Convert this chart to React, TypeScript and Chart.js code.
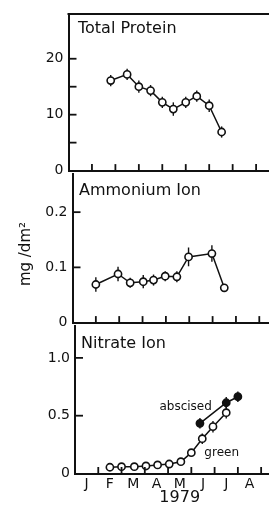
import React, { useEffect, useRef } from "react";
import { Chart, registerables } from "chart.js";

Chart.register(...registerables);

const INK = "#111";
const FONT = "DejaVu Sans";

// x in months since Jan 1, 1979
const monthLabels = ["J", "F", "M", "A", "M", "J", "J", "A"];
const monthCenters = [0.5, 1.5, 2.5, 3.5, 4.5, 5.5, 6.5, 7.5];
const monthBounds = [1, 2, 3, 4, 5, 6, 7, 8];

// Total Protein
const proteinDates = [1.8, 2.5, 3.0, 3.5, 4.0, 4.47, 5.0, 5.47, 6.0, 6.53];
const proteinValues = [16.1, 17.2, 15.0, 14.3, 12.2, 11.0, 12.2, 13.3, 11.6, 6.9];
const proteinErrors = [1.0, 1.0, 1.1, 1.0, 1.0, 1.2, 1.0, 1.0, 1.1, 1.0];
const proteinTicks = [0, 10, 20];
const proteinTickLabels = ["0", "10", "20"];
const proteinMarks = [5, 10, 15, 20];

// Ammonium Ion
const ammoniumDates = [1.0, 1.95, 2.47, 3.03, 3.47, 3.97, 4.47, 4.97, 5.97, 6.5];
const ammoniumValues = [0.069, 0.088, 0.072, 0.074, 0.077, 0.084, 0.083, 0.119, 0.125, 0.063];
const ammoniumErrors = [0.013, 0.013, 0.009, 0.012, 0.01, 0.009, 0.01, 0.017, 0.015, 0];
const ammoniumTicks = [0, 0.1, 0.2];
const ammoniumTickLabels = ["0", "0.1", "0.2"];
const ammoniumMarks = [0.1, 0.2];

// Nitrate Ion
const greenDates = [1.5, 2.0, 2.55, 3.05, 3.55, 4.05, 4.55, 5.0, 5.47, 5.93, 6.5];
const greenValues = [0.054, 0.059, 0.059, 0.065, 0.074, 0.082, 0.102, 0.18, 0.301, 0.405, 0.526];
const greenErrors = [0, 0, 0, 0, 0, 0, 0, 0, 0.045, 0.05, 0.05];
const abscisedDates = [5.37, 6.5, 7.0];
const abscisedValues = [0.434, 0.612, 0.664];
const abscisedErrors = [0.045, 0.05, 0.045];
const nitrateTicks = [0, 0.5, 1.0];
const nitrateTickLabels = ["0", "0.5", "1.0"];
const nitrateMarks = [0.5, 1.0];

type Series = { dates: number[]; values: number[]; errors: number[]; filled: boolean };
type Note = { text: string; x: number; y: number };
type Panel = {
  top: number;
  height: number;
  left: number;
  spacing: number;
  padTop: number;
  plotHeight: number;
  xHeight: number;
  yMax: number;
  yTicks: number[];
  yLabels: string[];
  yMarks: number[];
  series: Series[];
  title: string;
  titleDx: number;
  titleDy: number;
  frameTop: boolean;
  showMonths: boolean;
  xTitle: string;
  notes: Note[];
  yTitle: string;
};

const CANVAS_W = 290;

function makeDeco(p: Panel) {
  return {
    id: "deco",
    beforeDatasetsDraw(chart: any) {
      const ctx = chart.ctx;
      const xs = chart.scales.x;
      const ys = chart.scales.y;
      ctx.save();
      ctx.strokeStyle = INK;
      ctx.lineWidth = 1.4;
      p.series.forEach((s) => {
        s.dates.forEach((d, i) => {
          const e = s.errors[i];
          if (!e) return;
          const px = xs.getPixelForValue(d);
          ctx.beginPath();
          ctx.moveTo(px, ys.getPixelForValue(s.values[i] + e));
          ctx.lineTo(px, ys.getPixelForValue(s.values[i] - e));
          ctx.stroke();
        });
      });
      ctx.restore();
    },
    afterDraw(chart: any) {
      const ctx = chart.ctx;
      const a = chart.chartArea;
      const xs = chart.scales.x;
      const ys = chart.scales.y;
      ctx.save();
      ctx.strokeStyle = INK;
      ctx.fillStyle = INK;
      ctx.lineWidth = 1.8;
      // inward tick marks on x axis
      monthBounds.forEach((v) => {
        const px = xs.getPixelForValue(v);
        ctx.beginPath();
        ctx.moveTo(px, a.bottom);
        ctx.lineTo(px, a.bottom - 6.5);
        ctx.stroke();
      });
      // inward tick marks on y axis
      p.yMarks.forEach((v) => {
        const py = ys.getPixelForValue(v);
        ctx.beginPath();
        ctx.moveTo(a.left, py);
        ctx.lineTo(a.left + 8, py);
        ctx.stroke();
      });
      if (p.frameTop) {
        ctx.lineWidth = 2;
        ctx.beginPath();
        ctx.moveTo(a.left - 1, a.top);
        ctx.lineTo(a.right, a.top);
        ctx.stroke();
      }
      // panel title
      ctx.font = `16px "${FONT}"`;
      ctx.textAlign = "left";
      ctx.textBaseline = "alphabetic";
      ctx.fillText(p.title, a.left + p.titleDx, a.top + p.titleDy);
      // notes at data positions
      ctx.font = `12px "${FONT}"`;
      p.notes.forEach((n) => {
        ctx.fillText(n.text, xs.getPixelForValue(n.x), ys.getPixelForValue(n.y));
      });
      // shared y-axis title
      if (p.yTitle) {
        ctx.translate(26, (a.top + a.bottom) / 2 + 6);
        ctx.rotate(-Math.PI / 2);
        ctx.font = `15px "${FONT}"`;
        ctx.textAlign = "center";
        ctx.textBaseline = "middle";
        ctx.fillText(p.yTitle, 0, 0);
      }
      ctx.restore();
    },
  };
}

function buildChart(canvas: HTMLCanvasElement, p: Panel) {
  const padRight = CANVAS_W - p.left - 9 * p.spacing;
  const padBottom = p.height - p.padTop - p.plotHeight - p.xHeight;
  const tickFont = { family: FONT, size: 14 };
  return new Chart(canvas, {
    type: "line",
    data: {
      datasets: p.series.map((s) => ({
        data: s.dates.map((x, i) => ({ x, y: s.values[i] })),
        borderColor: INK,
        borderWidth: 1.5,
        pointRadius: 3.6,
        pointBorderWidth: 1.6,
        pointBackgroundColor: s.filled ? INK : "#fff",
        pointBorderColor: INK,
        tension: 0,
        fill: false,
      })),
    },
    options: {
      animation: false,
      responsive: false,
      devicePixelRatio: 1,
      events: [],
      layout: { padding: { top: p.padTop, left: 0, right: padRight, bottom: padBottom } },
      plugins: { legend: { display: false }, tooltip: { enabled: false } },
      scales: {
        x: {
          type: "linear",
          min: 0,
          max: 9,
          grid: { display: false, drawTicks: false },
          border: { display: true, color: INK, width: 2 },
          ticks: {
            display: p.showMonths,
            font: tickFont,
            color: INK,
            padding: 2,
            autoSkip: false,
            maxRotation: 0,
            callback: (_v: any, i: number) => monthLabels[i] ?? "",
          },
          afterBuildTicks: (s: any) => {
            s.ticks = monthCenters.map((v) => ({ value: v }));
          },
          afterFit: (s: any) => {
            s.height = p.xHeight;
          },
          title: {
            display: !!p.xTitle,
            text: p.xTitle,
            font: { family: FONT, size: 16 },
            color: INK,
            padding: { top: 0, bottom: 0.6 },
          },
        },
        y: {
          type: "linear",
          min: 0,
          max: p.yMax,
          grid: { display: false, drawTicks: false },
          border: { display: true, color: INK, width: 2 },
          ticks: {
            font: tickFont,
            color: INK,
            padding: 5,
            autoSkip: false,
            callback: (_v: any, i: number) => p.yLabels[i] ?? "",
          },
          afterBuildTicks: (s: any) => {
            s.ticks = p.yTicks.map((v) => ({ value: v }));
          },
          afterFit: (s: any) => {
            s.width = p.left;
          },
        },
      },
    } as any,
    plugins: [makeDeco(p) as any],
  });
}

const panels: Panel[] = [
  {
    top: 0,
    height: 184,
    left: 68.5,
    spacing: 23.45,
    padTop: 14,
    plotHeight: 159.5,
    xHeight: 0,
    yMax: 28,
    yTicks: proteinTicks,
    yLabels: proteinTickLabels,
    yMarks: proteinMarks,
    series: [{ dates: proteinDates, values: proteinValues, errors: proteinErrors, filled: false }],
    title: "Total Protein",
    titleDx: 9.5,
    titleDy: 18.7,
    frameTop: true,
    showMonths: false,
    xTitle: "",
    notes: [],
    yTitle: "",
  },
  {
    top: 160,
    height: 176,
    left: 72.5,
    spacing: 23.35,
    padTop: 13.5,
    plotHeight: 152,
    xHeight: 0,
    yMax: 0.27,
    yTicks: ammoniumTicks,
    yLabels: ammoniumTickLabels,
    yMarks: ammoniumMarks,
    series: [{ dates: ammoniumDates, values: ammoniumValues, errors: ammoniumErrors, filled: false }],
    title: "Ammonium Ion",
    titleDx: 6.5,
    titleDy: 21.5,
    frameTop: false,
    showMonths: false,
    xTitle: "",
    notes: [],
    yTitle: "mg /dm\u00B2",
  },
  {
    top: 312,
    height: 196,
    left: 75,
    spacing: 23.35,
    padTop: 13.5,
    plotHeight: 148,
    xHeight: 34.5,
    yMax: 1.28,
    yTicks: nitrateTicks,
    yLabels: nitrateTickLabels,
    yMarks: nitrateMarks,
    series: [
      { dates: greenDates, values: greenValues, errors: greenErrors, filled: false },
      { dates: abscisedDates, values: abscisedValues, errors: abscisedErrors, filled: true },
    ],
    title: "Nitrate Ion",
    titleDx: 6,
    titleDy: 22.5,
    frameTop: false,
    showMonths: true,
    xTitle: "1979",
    notes: [
      { text: "abscised", x: 3.63, y: 0.55 },
      { text: "green", x: 5.56, y: 0.15 },
    ],
    yTitle: "",
  },
];

export default function App() {
  const r0 = useRef<HTMLCanvasElement | null>(null);
  const r1 = useRef<HTMLCanvasElement | null>(null);
  const r2 = useRef<HTMLCanvasElement | null>(null);
  const refs = [r0, r1, r2];

  useEffect(() => {
    const charts = panels.map((p, i) => buildChart(refs[i].current as HTMLCanvasElement, p));
    return () => charts.forEach((c) => c.destroy());
  }, []);

  return (
    <div
      style={{
        position: "fixed",
        left: 0,
        top: 0,
        width: 269,
        height: 506,
        overflow: "hidden",
        background: "#fff",
      }}
    >
      {panels.map((p, i) => (
        <canvas
          key={i}
          ref={refs[i]}
          width={CANVAS_W}
          height={p.height}
          style={{ position: "absolute", left: 0, top: p.top, width: CANVAS_W, height: p.height }}
        />
      ))}
    </div>
  );
}
